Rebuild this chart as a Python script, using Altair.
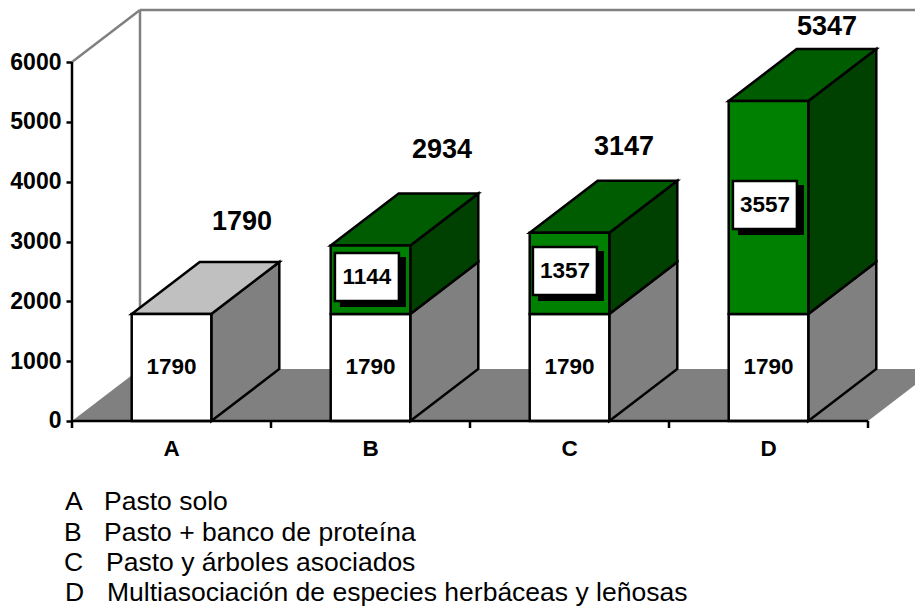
import altair as alt
import pandas as pd

FONT = "Liberation Sans"
categories = ["A", "B", "C", "D"]
base_values = [1790, 1790, 1790, 1790]
added_values = [0, 1144, 1357, 3557]
totals = [1790, 2934, 3147, 5347]
y_ticks = [0, 1000, 2000, 3000, 4000, 5000, 6000]

# Box and total-label anchors, in chart units
box_x = [1.482, 2.477, 3.482]
box_y = [2407, 2507, 3610]
total_x = [0.854, 1.859, 2.774, 3.794]
total_y = [3328, 4531, 4581, 6587]

legend_letters = ["A", "B", "C", "D"]
legend_text = ["Pasto solo", "Pasto + banco de proteína", "Pasto y árboles asociados",
               "Multiasociación de especies herbáceas y leñosas"]
legend_letter_x = [-0.035, -0.040, -0.040, -0.035]
legend_text_x = [0.161, 0.161, 0.171, 0.176]
legend_y = [-1488, -2006, -2507, -3008]

# 3D projection, in chart units
DX, DY = 0.3417, 869
BAR_L, BAR_W = 0.3, 0.4
WIDTH = 843
X_MAX = WIDTH / 199
PX_X, PX_Y = 1 / 199, 1000 / 59.83

GRAY, LIGHT = "#808080", "#C0C0C0"
FRONT_G, SIDE_G, TOP_G = "#008000", "#004000", "#005C00"
EDGE = 2.5

xs = alt.Scale(domain=[0, X_MAX], nice=False, zero=False)
ys = alt.Scale(domain=[-3109, 6903], nice=False, zero=False)
y_axis = alt.Axis(
    values=y_ticks, domain=False, grid=False, title=None, orient="left", format="d",
    tickSize=6, tickWidth=2.5, tickColor="black", labelPadding=5,
    labelFont=FONT, labelFontSize=23, labelFontWeight="bold", labelColor="black",
    labelOverlap=False, labelFlush=False)
X = lambda f="x": alt.X(f + ":Q", scale=xs, axis=None)
Y = lambda f="y": alt.Y(f + ":Q", scale=ys, axis=y_axis)
X2 = alt.X2("x2:Q")
Y2 = alt.Y2("y2:Q")

sides, tops, fronts = [], [], []
for i in range(4):
    l = i + BAR_L
    r = l + BAR_W
    segs = [(0, base_values[i], "#FFFFFF", GRAY, LIGHT)]
    if added_values[i]:
        segs.append((base_values[i], totals[i], FRONT_G, SIDE_G, TOP_G))
    for k, (lo, hi, cf, cs, ct) in enumerate(segs):
        g = f"{i}-{k}"
        sides += [dict(g=g, c=cs, x=r, y=lo, y2=hi), dict(g=g, c=cs, x=r + DX, y=lo + DY, y2=hi + DY)]
        fronts.append(dict(c=cf, x=l, x2=r, y=lo, y2=hi))
    tops += [dict(g=str(i), c=segs[-1][4], y=totals[i], x=l, x2=r),
             dict(g=str(i), c=segs[-1][4], y=totals[i] + DY, x=l + DX, x2=r + DX)]

fill = alt.Color("c:N", scale=None)

floor = alt.Chart(pd.DataFrame([
    dict(y=0, x=0, x2=4), dict(y=DY, x=DX, x2=4 + DX)
])).mark_area(orient="horizontal", color=GRAY, clip=True).encode(
    y=Y(), x=X(), x2=X2)

wall_v = alt.Chart(pd.DataFrame([dict(x=DX, y=DY, y2=6000 + DY)])).mark_rule(
    color=GRAY, strokeWidth=2.5).encode(x=X(), y=Y(), y2=Y2)
wall_h = alt.Chart(pd.DataFrame([dict(x=DX, x2=X_MAX, y=6000 + DY)])).mark_rule(
    color=GRAY, strokeWidth=2.5).encode(x=X(), x2=X2, y=Y())
wall_d = alt.Chart(pd.DataFrame([dict(x=0, y=6000), dict(x=DX, y=6000 + DY)])).mark_line(
    color=GRAY, strokeWidth=2.5).encode(x=X(), y=Y())

side_l = alt.Chart(pd.DataFrame(sides)).mark_area(stroke="black", strokeWidth=EDGE).encode(
    x=X(), y=Y(), y2=Y2, detail="g:N", fill=fill)
top_l = alt.Chart(pd.DataFrame(tops)).mark_area(orient="horizontal", stroke="black", strokeWidth=EDGE).encode(
    y=Y(), x=X(), x2=X2, detail="g:N", fill=fill)
front_l = alt.Chart(pd.DataFrame(fronts)).mark_rect(stroke="black", strokeWidth=EDGE).encode(
    x=X(), x2=X2, y=Y(), y2=Y2, fill=fill)

axis_y = alt.Chart(pd.DataFrame([dict(x=0, y=0, y2=6000)])).mark_rule(color="black", strokeWidth=EDGE).encode(
    x=X(), y=Y(), y2=Y2)
axis_x = alt.Chart(pd.DataFrame([dict(x=0, x2=4, y=0)])).mark_rule(color="black", strokeWidth=EDGE).encode(
    x=X(), x2=X2, y=Y())
ticks = alt.Chart(pd.DataFrame([dict(x=i, y=0, y2=-7 * PX_Y) for i in range(5)])).mark_rule(
    color="black", strokeWidth=EDGE).encode(x=X(), y=Y(), y2=Y2)

bold = dict(font=FONT, fontWeight="bold", color="black")
cat_l = alt.Chart(pd.DataFrame(dict(x=[i + 0.5 for i in range(4)], y=[-468] * 4, t=categories))).mark_text(
    fontSize=22.5, baseline="middle", **bold).encode(x=X(), y=Y(), text="t:N")
base_l = alt.Chart(pd.DataFrame(dict(x=[i + 0.5 for i in range(4)], y=[v / 2 for v in base_values], t=base_values))).mark_text(
    fontSize=22.5, baseline="middle", **bold).encode(x=X(), y=Y(), text="t:Q")

hw, hh = 32 * PX_X, 24 * PX_Y
sx, sy = 6 * PX_X, 5 * PX_Y
box_df = pd.DataFrame(dict(xc=box_x, yc=box_y, t=added_values[1:]))
box_df["x"], box_df["x2"] = box_df.xc - hw, box_df.xc + hw
box_df["y"], box_df["y2"] = box_df.yc - hh, box_df.yc + hh
shadow_df = box_df.copy()
shadow_df["x"] += sx
shadow_df["x2"] += sx
shadow_df["y"] -= sy
shadow_df["y2"] -= sy
shadow = alt.Chart(shadow_df).mark_rect(color="black", stroke="black", strokeWidth=2).encode(
    x=X(), x2=X2, y=Y(), y2=Y2)
box = alt.Chart(box_df).mark_rect(color="white", stroke="black", strokeWidth=2.5).encode(
    x=X(), x2=X2, y=Y(), y2=Y2)
box_t = alt.Chart(box_df).mark_text(fontSize=22.5, baseline="middle", **bold).encode(
    x=X("xc"), y=Y("yc"), text="t:Q")

total_l = alt.Chart(pd.DataFrame(dict(x=total_x, y=total_y, t=totals))).mark_text(
    fontSize=27, baseline="middle", **bold).encode(x=X(), y=Y(), text="t:Q")

leg_a = alt.Chart(pd.DataFrame(dict(x=legend_letter_x, y=legend_y, t=legend_letters))).mark_text(
    font=FONT, fontSize=26.5, align="left", baseline="alphabetic", color="black").encode(x=X(), y=Y(), text="t:N")
leg_b = alt.Chart(pd.DataFrame(dict(x=legend_text_x, y=legend_y, t=legend_text))).mark_text(
    font=FONT, fontSize=26.5, align="left", baseline="alphabetic", color="black").encode(x=X(), y=Y(), text="t:N")

chart = alt.layer(
    floor, wall_v, wall_h, wall_d, side_l, top_l, front_l, axis_y, axis_x, ticks,
    cat_l, base_l, shadow, box, box_t, total_l, leg_a, leg_b
).properties(
    width=WIDTH, height=599,
    autosize=alt.AutoSizeParams(type="none"),
    padding={"left": 64, "top": 0, "right": 0, "bottom": 0},
    background="white",
).configure_view(stroke=None)

chart.save("out.html", embed_options={"renderer": "svg", "actions": False})
